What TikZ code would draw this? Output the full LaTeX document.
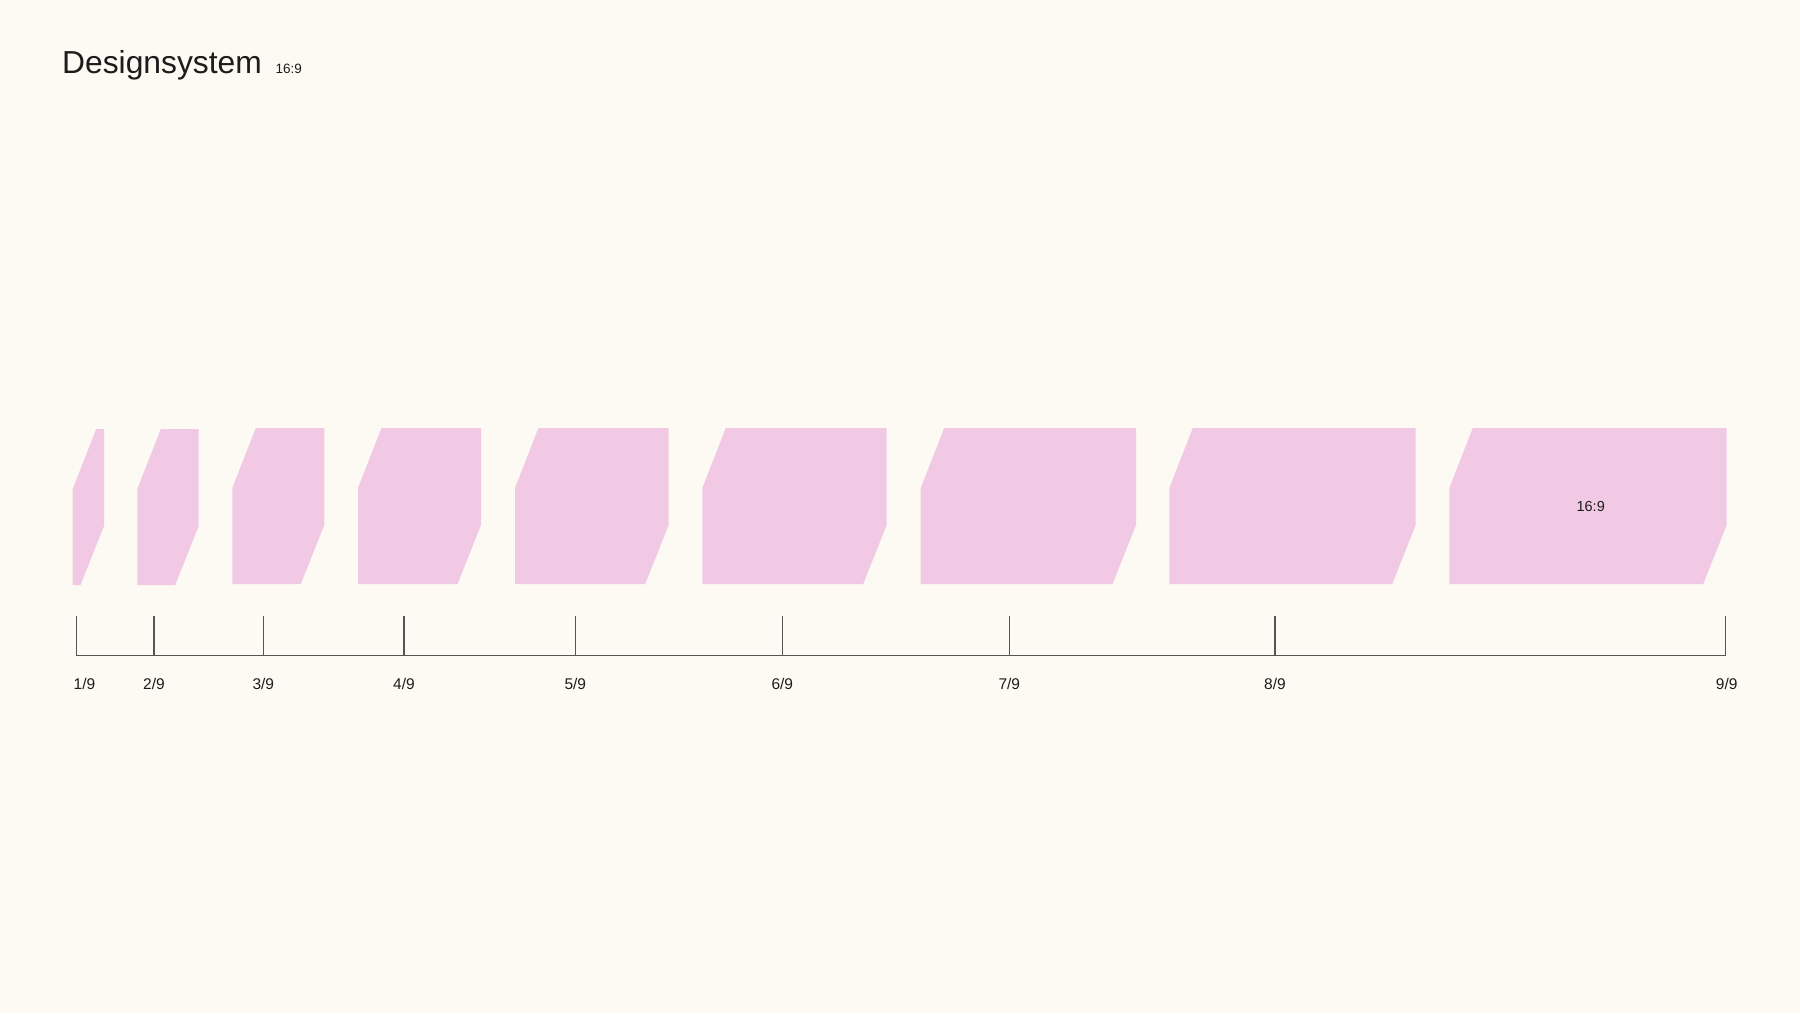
\documentclass[tikz,border=0pt]{standalone}
\usepackage{fontspec}
\setmainfont{Liberation Sans}
\definecolor{creme}{HTML}{FCFAF2}
\definecolor{rose}{HTML}{F1C9E5}
\definecolor{trait}{HTML}{555555}
\definecolor{encre}{HTML}{1C1C1C}
\tikzset{
  repere/.style={anchor=base, inner sep=0pt, text=encre, font=\fontsize{15.5}{18}\selectfont},
}
\begin{document}
\begin{tikzpicture}[x=1pt,y=-1pt]  % ------ Designsystem 16:9 ------
    \fill [creme] (0,0) rectangle (1800,1013);
    \useasboundingbox (0,0) rectangle (1800,1013);
    \node [anchor=base west, inner sep=0pt, text=encre, font=\fontsize{31.8}{36}\selectfont] (titre) at (62,73) {Designsystem};
    \node [anchor=base west, inner sep=0pt, text=encre, font=\fontsize{13.5}{16}\selectfont] (format) at (275.5,73) {16:9};
    % les formats
    \foreach \l/\r/\h/\b in {72.7/104/429/585, 137.3/198.7/429/585, 232.3/324.3/428/584,
        358/481/428/584, 515/668.7/428/584, 702.3/886.7/428/584, 920.7/1136/428/584,
        1169.3/1415.7/428/584, 1449.3/1726.7/428/584}
      \fill [rose] (\l,\h+60) -- (\l+23.5,\h) -- (\r,\h) -- (\r,\b-59) -- (\r-23.5,\b) -- (\l,\b) -- cycle;
    \node [inner sep=0pt, text=encre, font=\fontsize{14.5}{17}\selectfont] (plein) at (1590.7,506.5) {16:9};
    % la regle
    \draw [trait, line width=1.2pt] (76.3,655.7) -- (1725.7,655.7);
    \foreach \x/\t in {76.3/1, 154/2, 263.3/3, 404/4, 575.3/5, 782.3/6, 1009.3/7, 1275/8, 1725.7/9}
      \draw [trait, line width=1.2pt] (\x,615.7) coordinate (cran\t) -- (\x,655.7);
    \node [repere, anchor=base west] (r1) at (73.5,689) {1/9};
    \foreach \t in {2,...,8}
      \node [repere] (r\t) at (cran\t |- 0,689) {\t/9};
    \node [repere] (r9) at (1726.7,689) {9/9};
\end{tikzpicture}
\end{document}
